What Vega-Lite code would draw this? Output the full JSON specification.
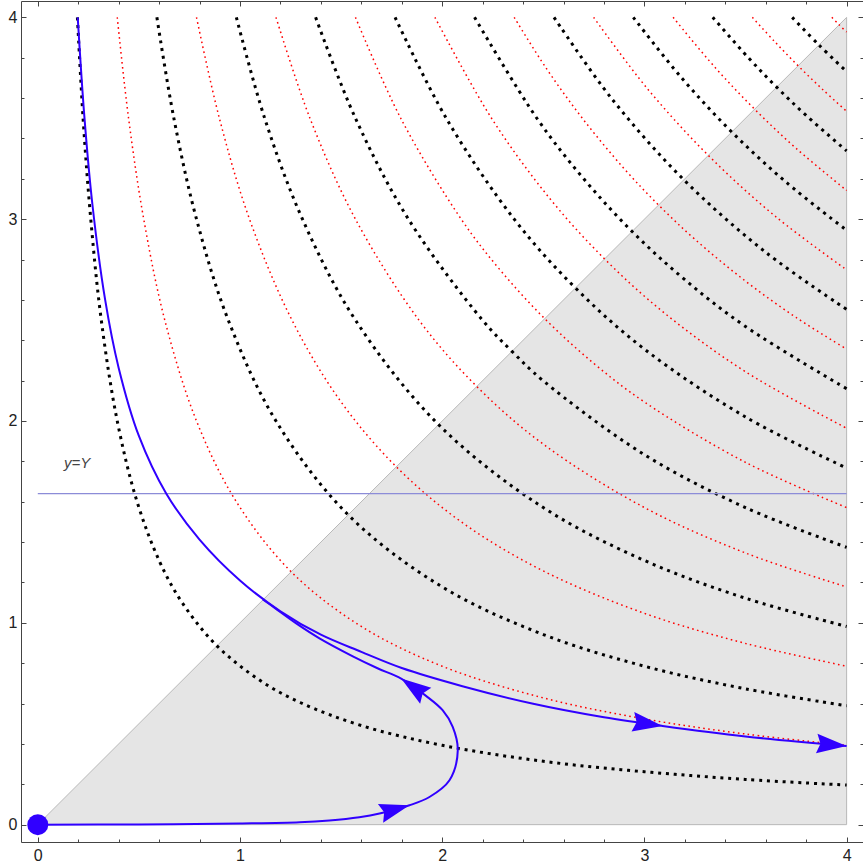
{
 "$schema": "https://vega.github.io/schema/vega-lite/v6.json",
 "width": 842, "height": 841,
 "autosize": {"type": "none"},
 "padding": {"left": 21, "top": 1, "right": 0, "bottom": 22},
 "background": "white",
 "config": {"view": {"stroke": null}, "axis": {"grid": false, "domainColor": "#444", "tickColor": "#444", "labelColor": "#222", "labelFont": "Liberation Sans", "labelFontSize": 16, "domainWidth": 1, "tickWidth": 1, "title": null}},
 "datasets": {
  "tri": [{"x": 0, "y": 0, "y2": 0}, {"x": 4, "y": 4, "y2": 0}],
  "edge": [{"x": 0, "y": 0, "o": 0}, {"x": 4, "y": 4, "o": 1}, {"x": 4, "y": 0, "o": 2}, {"x": 0, "y": 0, "o": 3}],
  "black": [
   {"k":1,"x":0.196,"y":4},{"k":1,"x":0.224,"y":3.5},{"k":1,"x":0.262,"y":3},{"k":1,"x":0.314,"y":2.5},{"k":1,"x":0.393,"y":2},{"k":1,"x":0.491,"y":1.6},{"k":1,"x":0.604,"y":1.3},{"k":1,"x":0.714,"y":1.1},{"k":1,"x":0.886,"y":0.886},{"k":1,"x":1.1,"y":0.714},{"k":1,"x":1.3,"y":0.604},{"k":1,"x":1.6,"y":0.491},{"k":1,"x":2,"y":0.393},{"k":1,"x":2.5,"y":0.314},{"k":1,"x":3,"y":0.262},{"k":1,"x":3.5,"y":0.224},{"k":1,"x":4,"y":0.196},
   {"k":3,"x":0.589,"y":4},{"k":3,"x":0.673,"y":3.5},{"k":3,"x":0.785,"y":3},{"k":3,"x":0.942,"y":2.5},{"k":3,"x":1.178,"y":2},{"k":3,"x":1.535,"y":1.535},{"k":3,"x":2,"y":1.178},{"k":3,"x":2.5,"y":0.942},{"k":3,"x":3,"y":0.785},{"k":3,"x":3.5,"y":0.673},{"k":3,"x":4,"y":0.589},
   {"k":5,"x":0.982,"y":4},{"k":5,"x":1.122,"y":3.5},{"k":5,"x":1.309,"y":3},{"k":5,"x":1.571,"y":2.5},{"k":5,"x":1.982,"y":1.982},{"k":5,"x":2.5,"y":1.571},{"k":5,"x":3,"y":1.309},{"k":5,"x":3.5,"y":1.122},{"k":5,"x":4,"y":0.982},
   {"k":7,"x":1.374,"y":4},{"k":7,"x":1.571,"y":3.5},{"k":7,"x":1.833,"y":3},{"k":7,"x":2.199,"y":2.5},{"k":7,"x":2.345,"y":2.345},{"k":7,"x":2.5,"y":2.199},{"k":7,"x":3,"y":1.833},{"k":7,"x":3.5,"y":1.571},{"k":7,"x":4,"y":1.374},
   {"k":9,"x":1.767,"y":4},{"k":9,"x":2.02,"y":3.5},{"k":9,"x":2.356,"y":3},{"k":9,"x":2.659,"y":2.659},{"k":9,"x":3,"y":2.356},{"k":9,"x":3.5,"y":2.02},{"k":9,"x":4,"y":1.767},
   {"k":11,"x":2.16,"y":4},{"k":11,"x":2.468,"y":3.5},{"k":11,"x":2.7,"y":3.2},{"k":11,"x":2.939,"y":2.939},{"k":11,"x":3.2,"y":2.7},{"k":11,"x":3.5,"y":2.468},{"k":11,"x":4,"y":2.16},
   {"k":13,"x":2.553,"y":4},{"k":13,"x":2.836,"y":3.6},{"k":13,"x":3.195,"y":3.195},{"k":13,"x":3.6,"y":2.836},{"k":13,"x":4,"y":2.553},
   {"k":15,"x":2.945,"y":4},{"k":15,"x":3.184,"y":3.7},{"k":15,"x":3.432,"y":3.432},{"k":15,"x":3.7,"y":3.184},{"k":15,"x":4,"y":2.945},
   {"k":17,"x":3.338,"y":4},{"k":17,"x":3.514,"y":3.8},{"k":17,"x":3.654,"y":3.654},{"k":17,"x":3.8,"y":3.514},{"k":17,"x":4,"y":3.338},
   {"k":19,"x":3.731,"y":4},{"k":19,"x":3.863,"y":3.863},{"k":19,"x":4,"y":3.731}
  ],
  "red": [
   {"k":2,"x":0.393,"y":4},{"k":2,"x":0.449,"y":3.5},{"k":2,"x":0.524,"y":3},{"k":2,"x":0.628,"y":2.5},{"k":2,"x":0.785,"y":2},{"k":2,"x":0.982,"y":1.6},{"k":2,"x":1.253,"y":1.253},{"k":2,"x":1.6,"y":0.982},{"k":2,"x":2,"y":0.785},{"k":2,"x":2.5,"y":0.628},{"k":2,"x":3,"y":0.524},{"k":2,"x":3.5,"y":0.449},{"k":2,"x":4,"y":0.393},
   {"k":4,"x":0.785,"y":4},{"k":4,"x":0.898,"y":3.5},{"k":4,"x":1.047,"y":3},{"k":4,"x":1.257,"y":2.5},{"k":4,"x":1.496,"y":2.1},{"k":4,"x":1.773,"y":1.773},{"k":4,"x":2.1,"y":1.496},{"k":4,"x":2.5,"y":1.257},{"k":4,"x":3,"y":1.047},{"k":4,"x":3.5,"y":0.898},{"k":4,"x":4,"y":0.785},
   {"k":6,"x":1.178,"y":4},{"k":6,"x":1.346,"y":3.5},{"k":6,"x":1.571,"y":3},{"k":6,"x":1.885,"y":2.5},{"k":6,"x":2.171,"y":2.171},{"k":6,"x":2.5,"y":1.885},{"k":6,"x":3,"y":1.571},{"k":6,"x":3.5,"y":1.346},{"k":6,"x":4,"y":1.178},
   {"k":8,"x":1.571,"y":4},{"k":8,"x":1.795,"y":3.5},{"k":8,"x":2.094,"y":3},{"k":8,"x":2.285,"y":2.75},{"k":8,"x":2.507,"y":2.507},{"k":8,"x":2.75,"y":2.285},{"k":8,"x":3,"y":2.094},{"k":8,"x":3.5,"y":1.795},{"k":8,"x":4,"y":1.571},
   {"k":10,"x":1.964,"y":4},{"k":10,"x":2.244,"y":3.5},{"k":10,"x":2.534,"y":3.1},{"k":10,"x":2.803,"y":2.803},{"k":10,"x":3.1,"y":2.534},{"k":10,"x":3.5,"y":2.244},{"k":10,"x":4,"y":1.964},
   {"k":12,"x":2.356,"y":4},{"k":12,"x":2.513,"y":3.75},{"k":12,"x":2.693,"y":3.5},{"k":12,"x":2.9,"y":3.25},{"k":12,"x":3.07,"y":3.07},{"k":12,"x":3.25,"y":2.9},{"k":12,"x":3.5,"y":2.693},{"k":12,"x":3.75,"y":2.513},{"k":12,"x":4,"y":2.356},
   {"k":14,"x":2.749,"y":4},{"k":14,"x":3.012,"y":3.65},{"k":14,"x":3.316,"y":3.316},{"k":14,"x":3.65,"y":3.012},{"k":14,"x":4,"y":2.749},
   {"k":16,"x":3.142,"y":4},{"k":16,"x":3.351,"y":3.75},{"k":16,"x":3.545,"y":3.545},{"k":16,"x":3.75,"y":3.351},{"k":16,"x":4,"y":3.142},
   {"k":18,"x":3.534,"y":4},{"k":18,"x":3.644,"y":3.88},{"k":18,"x":3.76,"y":3.76},{"k":18,"x":3.88,"y":3.644},{"k":18,"x":4,"y":3.534},
   {"k":20,"x":3.927,"y":4},{"k":20,"x":3.963,"y":3.963},{"k":20,"x":4,"y":3.927}
  ],
  "hline": [{"x": 0, "y": 1.64}, {"x": 4, "y": 1.64}],
  "blue": [
   {"id":"a","o":0,"x":0.1975,"y":4.0},{"id":"a","o":1,"x":0.23,"y":3.513},{"id":"a","o":2,"x":0.27,"y":3.074},{"id":"a","o":3,"x":0.333,"y":2.601},{"id":"a","o":4,"x":0.4,"y":2.263},{"id":"a","o":5,"x":0.5,"y":1.926},{"id":"a","o":6,"x":0.635,"y":1.641},{"id":"a","o":7,"x":0.8,"y":1.4125},{"id":"a","o":8,"x":1.0,"y":1.21},{"id":"a","o":9,"x":1.2,"y":1.057},{"id":"a","o":10,"x":1.4,"y":0.941},{"id":"a","o":11,"x":1.6,"y":0.856},{"id":"a","o":12,"x":1.8,"y":0.776},{"id":"a","o":13,"x":2.1,"y":0.686},{"id":"a","o":14,"x":2.45,"y":0.599},{"id":"a","o":15,"x":2.8,"y":0.532},{"id":"a","o":16,"x":3.09,"y":0.489},{"id":"a","o":17,"x":3.5,"y":0.437},{"id":"a","o":18,"x":4.0,"y":0.39},
   {"id":"b","o":0,"x":0,"y":0},{"id":"b","o":1,"x":0.5,"y":0.001},{"id":"b","o":2,"x":1.0,"y":0.006},{"id":"b","o":3,"x":1.295,"y":0.012},{"id":"b","o":4,"x":1.442,"y":0.021},{"id":"b","o":5,"x":1.59,"y":0.037},{"id":"b","o":6,"x":1.69,"y":0.055},{"id":"b","o":7,"x":1.838,"y":0.096},{"id":"b","o":8,"x":1.937,"y":0.137},{"id":"b","o":9,"x":2.036,"y":0.22},{"id":"b","o":10,"x":2.077,"y":0.368},{"id":"b","o":11,"x":2.052,"y":0.484},{"id":"b","o":12,"x":2.002,"y":0.567},{"id":"b","o":13,"x":1.92,"y":0.638},{"id":"b","o":14,"x":1.797,"y":0.724},{"id":"b","o":15,"x":1.68,"y":0.775},{"id":"b","o":16,"x":1.558,"y":0.834},{"id":"b","o":17,"x":1.393,"y":0.923},{"id":"b","o":18,"x":1.278,"y":0.997},{"id":"b","o":19,"x":1.17,"y":1.075},{"id":"b","o":20,"x":1.113,"y":1.116}
  ],
  "arrows": [{"x": 1.838, "y": 0.096, "a": -15.5}, {"x": 1.797, "y": 0.724, "a": 215}, {"x": 3.09, "y": 0.489, "a": 8}, {"x": 4.0, "y": 0.39, "a": 4.5}],
  "dot": [{"x": 0, "y": 0}],
  "label": [{"x": 0.194, "y": 1.792, "t": "y=Y"}]
 },
 "resolve": {"axis": {"x": "independent", "y": "independent"}},
 "layer": [
  {"data": {"name": "tri"}, "mark": {"type": "area", "color": "#e5e5e5"},
   "encoding": {
    "x": {"field": "x", "type": "quantitative", "scale": {"domain": [-0.083, 4.081], "nice": false, "zero": false}, "axis": {"orient": "bottom", "values": [0, 1, 2, 3, 4], "ticks": false, "labelPadding": 5, "labelFlush": false}},
    "y": {"field": "y", "type": "quantitative", "scale": {"domain": [-0.086, 4.081], "nice": false, "zero": false}, "axis": {"orient": "left", "values": [0, 1, 2, 3, 4], "ticks": false, "labelPadding": 4, "labelFlush": false}},
    "y2": {"field": "y2"}}},
  {"data": {"name": "edge"}, "mark": {"type": "line", "color": "#b8b8b8", "strokeWidth": 1},
   "encoding": {
    "x": {"field": "x", "type": "quantitative", "scale": {"domain": [-0.083, 4.081], "nice": false, "zero": false}, "axis": {"orient": "bottom", "values": [0, 1, 2, 3, 4], "labels": false, "domain": false, "tickSize": -5}},
    "y": {"field": "y", "type": "quantitative", "scale": {"domain": [-0.086, 4.081], "nice": false, "zero": false}, "axis": {"orient": "left", "values": [0, 1, 2, 3, 4], "labels": false, "domain": false, "tickSize": -5}},
    "order": {"field": "o", "type": "quantitative"}}},
  {"data": {"name": "black"}, "mark": {"type": "line", "color": "black", "strokeWidth": 3, "strokeDash": [3, 4.8], "strokeCap": "butt", "interpolate": "catmull-rom"},
   "encoding": {
    "x": {"field": "x", "type": "quantitative", "scale": {"domain": [-0.083, 4.081], "nice": false, "zero": false}, "axis": {"orient": "bottom", "values": [0.2,0.4,0.6,0.8,1.2,1.4,1.6,1.8,2.2,2.4,2.6,2.8,3.2,3.4,3.6,3.8], "labels": false, "domain": false, "tickSize": -3}},
    "y": {"field": "y", "type": "quantitative", "scale": {"domain": [-0.086, 4.081], "nice": false, "zero": false}, "axis": {"orient": "left", "values": [0.2,0.4,0.6,0.8,1.2,1.4,1.6,1.8,2.2,2.4,2.6,2.8,3.2,3.4,3.6,3.8], "labels": false, "domain": false, "tickSize": -3}},
    "detail": {"field": "k", "type": "nominal"}}},
  {"data": {"name": "red"}, "mark": {"type": "line", "color": "#ff0000", "strokeWidth": 1.5, "strokeDash": [1.6, 3.4], "strokeCap": "butt", "interpolate": "catmull-rom"},
   "encoding": {
    "x": {"field": "x", "type": "quantitative", "scale": {"domain": [-0.083, 4.081], "nice": false, "zero": false}, "axis": {"orient": "top", "values": [0, 1, 2, 3, 4], "labels": false, "domain": true, "tickSize": -5}},
    "y": {"field": "y", "type": "quantitative", "scale": {"domain": [-0.086, 4.081], "nice": false, "zero": false}, "axis": {"orient": "right", "values": [0, 1, 2, 3, 4], "labels": false, "domain": true, "tickSize": -5}},
    "detail": {"field": "k", "type": "nominal"}}},
  {"data": {"name": "hline"}, "mark": {"type": "line", "color": "#8c8cd8", "strokeWidth": 1.3},
   "encoding": {
    "x": {"field": "x", "type": "quantitative", "scale": {"domain": [-0.083, 4.081], "nice": false, "zero": false}, "axis": {"orient": "top", "values": [0.2,0.4,0.6,0.8,1.2,1.4,1.6,1.8,2.2,2.4,2.6,2.8,3.2,3.4,3.6,3.8], "labels": false, "domain": false, "tickSize": -3}},
    "y": {"field": "y", "type": "quantitative", "scale": {"domain": [-0.086, 4.081], "nice": false, "zero": false}, "axis": {"orient": "right", "values": [0.2,0.4,0.6,0.8,1.2,1.4,1.6,1.8,2.2,2.4,2.6,2.8,3.2,3.4,3.6,3.8], "labels": false, "domain": false, "tickSize": -3}}}},
  {"data": {"name": "blue"}, "mark": {"type": "line", "color": "#3000ff", "strokeWidth": 2, "interpolate": "catmull-rom"},
   "encoding": {
    "x": {"field": "x", "type": "quantitative", "scale": {"domain": [-0.083, 4.081], "nice": false, "zero": false}, "axis": null},
    "y": {"field": "y", "type": "quantitative", "scale": {"domain": [-0.086, 4.081], "nice": false, "zero": false}, "axis": null},
    "detail": {"field": "id", "type": "nominal"},
    "order": {"field": "o", "type": "quantitative"}}},
  {"data": {"name": "arrows"}, "mark": {"type": "point", "shape": "M0,0 L-2,-0.65 L-1.75,0 L-2,0.65 Z", "filled": true, "color": "#3000ff", "opacity": 1, "size": 900, "strokeWidth": 0},
   "encoding": {
    "x": {"field": "x", "type": "quantitative", "scale": {"domain": [-0.083, 4.081], "nice": false, "zero": false}, "axis": null},
    "y": {"field": "y", "type": "quantitative", "scale": {"domain": [-0.086, 4.081], "nice": false, "zero": false}, "axis": null},
    "angle": {"field": "a", "type": "quantitative", "scale": null}}},
  {"data": {"name": "dot"}, "mark": {"type": "point", "shape": "circle", "filled": true, "color": "#3000ff", "opacity": 1, "size": 441},
   "encoding": {
    "x": {"field": "x", "type": "quantitative", "scale": {"domain": [-0.083, 4.081], "nice": false, "zero": false}, "axis": null},
    "y": {"field": "y", "type": "quantitative", "scale": {"domain": [-0.086, 4.081], "nice": false, "zero": false}, "axis": null}}},
  {"data": {"name": "label"}, "mark": {"type": "text", "font": "Liberation Sans", "fontSize": 15, "fontStyle": "italic", "color": "#444", "align": "center", "baseline": "middle"},
   "encoding": {
    "x": {"field": "x", "type": "quantitative", "scale": {"domain": [-0.083, 4.081], "nice": false, "zero": false}, "axis": null},
    "y": {"field": "y", "type": "quantitative", "scale": {"domain": [-0.086, 4.081], "nice": false, "zero": false}, "axis": null},
    "text": {"field": "t"}}}
 ]
}
